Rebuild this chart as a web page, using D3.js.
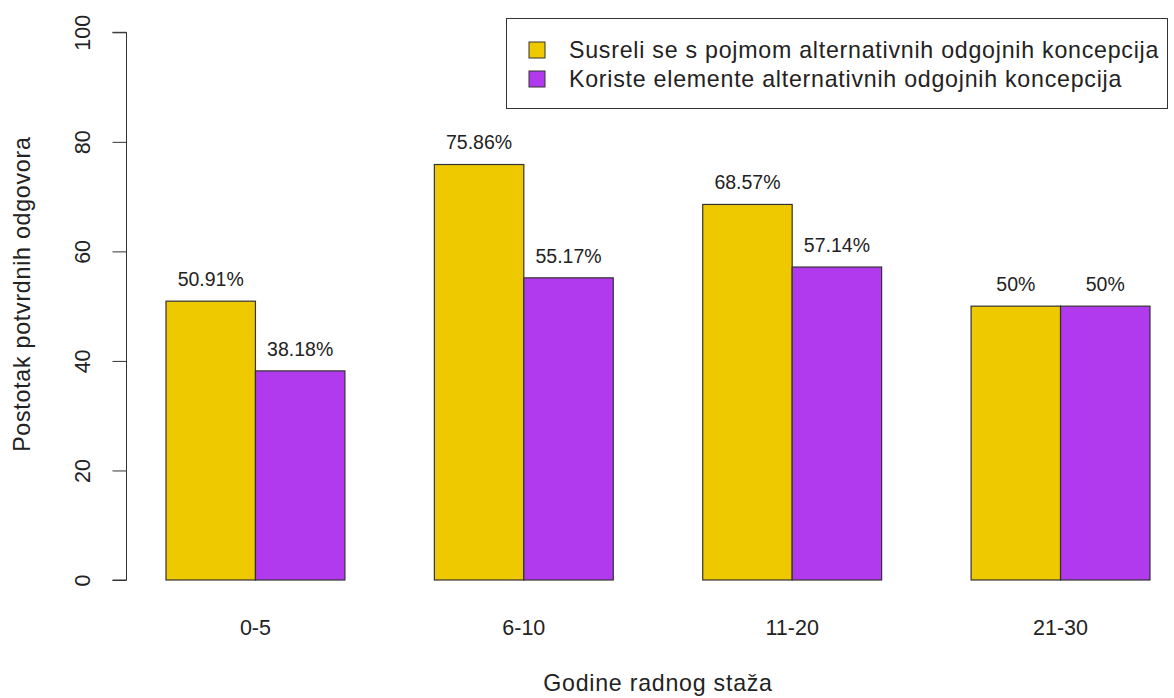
<!DOCTYPE html>
<html><head><meta charset="utf-8">
<script src="https://cdn.jsdelivr.net/npm/d3@7"></script>
<style>body{margin:0;background:#fff}svg{display:block;font-family:"Liberation Sans",Arial,sans-serif}</style>
</head><body>
<svg id="c" width="1174" height="698"></svg>
<script>
const categories = ["0-5","6-10","11-20","21-30"];
const seriesNames = ["Susreli se s pojmom alternativnih odgojnih koncepcija","Koriste elemente alternativnih odgojnih koncepcija"];
const susreli = [50.91, 75.86, 68.57, 50];
const koriste = [38.18, 55.17, 57.14, 50];
const valueLabels = [["50.91%","75.86%","68.57%","50%"],["38.18%","55.17%","57.14%","50%"]];
const yTicks = [0,20,40,60,80,100];
const colors = ["#EEC900","#B23AEE"];
const xTitle = "Godine radnog staža";
const yTitle = "Postotak potvrdnih odgovora";

const svg = d3.select("#c");
const fsTick = 21.5, fsVal = 19.5, fsTitle = 23.2, ls = "0.75px";
const x = d3.scaleLinear().domain([1,12]).range([166,1150]);
const y = d3.scaleLinear().domain([0,100]).range([580,32.3]);
const series = [susreli, koriste];

const bars = [];
categories.forEach((c,i)=>{
  series.forEach((s,j)=>{
    const left = 1 + i*3 + j;
    bars.push({left, v:s[i], col:colors[j], lab:valueLabels[j][i]});
  });
});
svg.append("g").selectAll("rect").data(bars).join("rect")
  .attr("x", d=>x(d.left)).attr("width", d=>x(d.left+1)-x(d.left))
  .attr("y", d=>y(d.v)).attr("height", d=>y(0)-y(d.v))
  .attr("fill", d=>d.col).attr("stroke","#333").attr("stroke-width",1.2);
svg.append("g").selectAll("text").data(bars).join("text")
  .attr("x", d=>x(d.left+0.5)).attr("y", d=>y(d.v+4)).attr("dy","0.35em")
  .attr("text-anchor","middle").attr("font-size",fsVal).attr("fill","#222").text(d=>d.lab);

// y axis
const ax = 126.5;
const yAxis = d3.axisLeft(y).tickValues(yTicks).tickSize(14).tickFormat(d3.format("d"));
const ga = svg.append("g").attr("transform",`translate(${ax},0)`).call(yAxis);
ga.select(".domain").attr("d", `M-14,${y(100)}H0V${y(0)}H-14`).attr("stroke","#333").attr("fill","none");
ga.selectAll(".tick line").attr("stroke","#333");
ga.selectAll(".tick text").attr("font-size",fsTick).attr("fill","#222")
  .attr("font-family","Liberation Sans, Arial, sans-serif")
  .attr("transform", "translate(-44,0) rotate(-90)")
  .attr("x",0).attr("y",0).attr("dy","0.35em").attr("text-anchor","middle");

// category labels
svg.append("g").selectAll("text").data(categories).join("text")
  .attr("x",(d,i)=>x(1+i*3+1)).attr("y",635)
  .attr("text-anchor","middle").attr("font-size",fsTick).attr("fill","#222").text(d=>d);

// titles
svg.append("text").attr("x",(x(0.56)+x(12.44))/2).attr("y",691)
  .attr("text-anchor","middle").attr("font-size",fsTitle).attr("letter-spacing",ls).attr("fill","#222").text(xTitle);
svg.append("text").attr("transform",`translate(22,${y(50)-12}) rotate(-90)`).attr("dy","0.35em")
  .attr("text-anchor","middle").attr("font-size",fsTitle).attr("letter-spacing",ls).attr("fill","#222").text(yTitle);

// legend
const lg = svg.append("g");
lg.append("rect").attr("x",506.5).attr("y",18.5).attr("width",661).attr("height",90)
  .attr("fill","#fff").attr("stroke","#333");
seriesNames.forEach((n,j)=>{
  const base = 58 + j*29;
  lg.append("rect").attr("x",529).attr("y",base-16).attr("width",16).attr("height",16)
    .attr("fill",colors[j]).attr("stroke","#333");
  lg.append("text").attr("x",569).attr("y",base).attr("font-size",fsTitle).attr("letter-spacing",ls).attr("fill","#222").text(n);
});
</script>
</body></html>
